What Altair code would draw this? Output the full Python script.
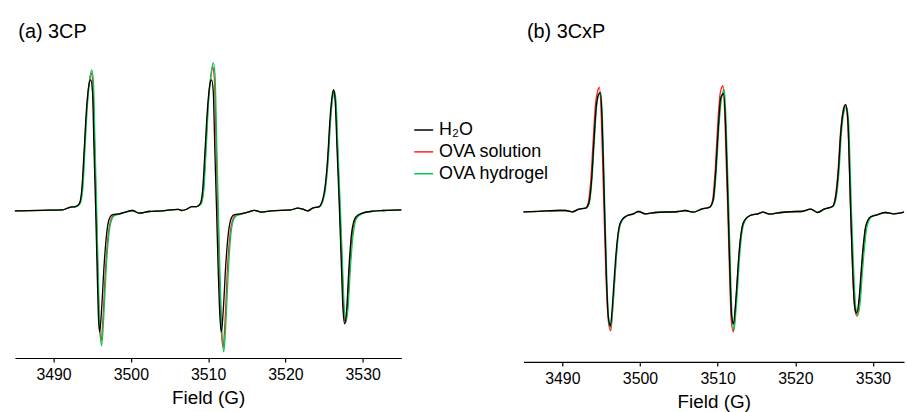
import altair as alt
import pandas as pd

SERIES = ["H₂O", "OVA solution", "OVA hydrogel"]
COLORS = ["#000000", "#ff2020", "#00c850"]
TICKS = [3490, 3500, 3510, 3520, 3530]

# ---------------- Panel (a) 3CP ----------------
FIELD_A_H2O = [3485.00, 3488.60, 3491.17, 3492.07, 3492.84, 3493.32, 3493.65, 3493.96, 3494.25, 3494.60,
               3494.81, 3495.03, 3495.24, 3495.45, 3495.63, 3495.80, 3495.96, 3496.22, 3496.53, 3496.83,
               3497.17, 3497.60, 3498.46, 3499.31, 3500.17, 3501.03, 3502.31, 3504.02, 3506.17, 3506.59,
               3507.24, 3507.88, 3508.52, 3508.96, 3509.29, 3509.60, 3509.90, 3510.24, 3510.45, 3510.66,
               3510.87, 3511.09, 3511.29, 3511.52, 3511.71, 3511.97, 3512.27, 3512.57, 3512.92, 3513.34,
               3514.18, 3515.17, 3515.98, 3516.88, 3518.16, 3520.73, 3521.59, 3522.24, 3522.88, 3523.52,
               3524.37, 3525.01, 3525.45, 3525.78, 3526.03, 3526.22, 3526.43, 3526.67, 3526.98, 3527.22,
               3527.44, 3527.67, 3527.93, 3528.23, 3528.57, 3529.09, 3529.95, 3531.02, 3532.72, 3535.00]
INT_A_H2O = [0, 0.5, 1, 3.5, 4.3, 7, 21, 61, 101, 128,
             132, 121, 61, 1, -56, -106, -122, -99, -56, -26,
             -9, -4, -3, -1.3, 0.3, -2.3, -0.7, 0, 1.5, 0.3,
             1.7, 4.3, 4.3, 7, 21, 61, 101, 128, 132, 121,
             61, 1, -56, -106, -122, -99, -56, -26, -9, -4,
             -3, -1.3, 0.5, -1.3, 0, 1, 2.7, 1.7, 0, 2.7,
             4.3, 18, 51, 94, 115, 122, 112, 64, 3, -50,
             -98, -114, -99, -56, -22, -6.3, -2.3, -0.7, 0.3, 1]

FIELD_A_SOL = [3485.00, 3488.60, 3491.17, 3492.07, 3492.84, 3493.37, 3493.70, 3494.01, 3494.31, 3494.65,
               3494.87, 3495.09, 3495.31, 3495.53, 3495.71, 3495.91, 3496.16, 3496.41, 3496.72, 3497.03,
               3497.39, 3497.79, 3498.56, 3499.31, 3500.17, 3501.03, 3502.31, 3504.02, 3506.17, 3506.59,
               3507.24, 3507.88, 3508.52, 3509.04, 3509.37, 3509.69, 3509.99, 3510.35, 3510.59, 3510.81,
               3511.03, 3511.25, 3511.45, 3511.67, 3511.93, 3512.19, 3512.49, 3512.79, 3513.14, 3513.56,
               3514.31, 3515.17, 3515.98, 3516.88, 3518.16, 3520.73, 3521.59, 3522.24, 3522.88, 3523.52,
               3524.42, 3525.06, 3525.49, 3525.84, 3526.08, 3526.27, 3526.49, 3526.74, 3527.04, 3527.29,
               3527.52, 3527.75, 3528.02, 3528.33, 3528.68, 3529.19, 3530.04, 3531.02, 3532.72, 3535.00]
INT_A_SOL = [0, 0.5, 1, 3.5, 4.3, 7, 21, 62, 104, 131,
             139, 128, 64, 1, -58, -110, -131, -106, -59, -27,
             -10, -4.5, -3, -1.3, 0.3, -2.3, -0.7, 0, 1.5, 0.3,
             1.7, 4.3, 4.3, 7, 21, 64, 106, 135, 145, 133,
             67, 1, -60, -114, -138, -111, -60, -27, -10, -4.5,
             -3, -1.3, 0.5, -1.3, 0, 1, 2.7, 1.7, 0, 2.7,
             4.3, 18, 51, 94, 114, 121, 110, 62, 2, -50,
             -97, -113, -97, -55, -22, -6.3, -2.3, -0.7, 0.3, 1]

FIELD_A_GEL = [3485.00, 3488.60, 3491.17, 3492.13, 3492.97, 3493.42, 3493.77, 3494.07, 3494.38, 3494.70,
               3494.94, 3495.15, 3495.37, 3495.58, 3495.77, 3495.96, 3496.22, 3496.48, 3496.79, 3497.11,
               3497.47, 3497.85, 3498.62, 3499.40, 3500.30, 3501.13, 3502.35, 3504.02, 3506.17, 3506.59,
               3507.24, 3507.88, 3508.52, 3509.11, 3509.45, 3509.77, 3510.06, 3510.42, 3510.67, 3510.89,
               3511.11, 3511.32, 3511.53, 3511.76, 3512.03, 3512.29, 3512.60, 3512.89, 3513.24, 3513.66,
               3514.43, 3515.17, 3515.98, 3516.88, 3518.16, 3520.73, 3521.59, 3522.24, 3522.88, 3523.52,
               3524.46, 3525.10, 3525.54, 3525.87, 3526.12, 3526.32, 3526.54, 3526.80, 3527.11, 3527.37,
               3527.60, 3527.83, 3528.11, 3528.43, 3528.79, 3529.31, 3530.12, 3531.02, 3532.72, 3535.00]
INT_A_GEL = [0, 0.5, 1, 3.5, 4.3, 7, 21, 63, 106, 133,
             142, 131, 66, 1, -59, -114, -136, -109, -61, -27,
             -10, -5, -3, -1.3, 0.3, -2.3, -0.7, 0, 1.5, 0.3,
             1.7, 4.3, 4.3, 7, 22, 66, 110, 140, 149, 137,
             69, 1, -62, -118, -142, -114, -62, -28, -10, -5,
             -3, -1.3, 0.5, -1.3, 0, 1, 2.7, 1.7, 0, 2.7,
             4.3, 18, 51, 94, 114, 121, 111, 62, 2, -50,
             -97, -112, -97, -55, -22, -6.3, -2.3, -0.7, 0.3, 1]

# ---------------- Panel (b) 3CxP ----------------
FIELD_B_H2O = [3485.00, 3487.01, 3489.57, 3490.43, 3491.27, 3492.13, 3492.99, 3493.41, 3493.76, 3494.05,
               3494.35, 3494.64, 3494.88, 3495.12, 3495.28, 3495.44, 3495.67, 3495.92, 3496.18, 3496.41,
               3496.61, 3496.83, 3497.04, 3497.32, 3497.68, 3498.32, 3499.17, 3499.81, 3500.67, 3501.95,
               3504.94, 3505.79, 3506.86, 3507.92, 3508.99, 3509.42, 3509.76, 3510.06, 3510.40, 3510.77,
               3511.02, 3511.20, 3511.36, 3511.57, 3511.79, 3512.03, 3512.26, 3512.46, 3512.67, 3512.87,
               3513.16, 3513.51, 3514.12, 3515.18, 3515.82, 3516.68, 3518.16, 3520.30, 3520.72, 3522.00,
               3522.86, 3523.72, 3524.78, 3525.20, 3525.55, 3525.85, 3526.19, 3526.49, 3526.77, 3526.96,
               3527.13, 3527.38, 3527.64, 3527.89, 3528.24, 3528.43, 3528.62, 3528.83, 3529.05, 3529.69,
               3530.54, 3531.61, 3532.68, 3534.00]
INT_B_H2O = [0, 0.5, 1.3, 1.3, 0, 2.7, 3.7, 8.7, 32, 69,
             105, 118, 120, 92, 47, -1, -65, -106, -115, -98,
             -75, -50, -31, -15, -8, -4, -2, 0.3, -2, -0.7,
             0.3, 1.3, -0.3, 2.7, 4.7, 12, 42, 82, 115, 119,
             87, 42, -1, -58, -104, -113, -97, -75, -50, -31,
             -15, -8, -4, -2, -0.3, -2.3, -0.7, 0.3, 0.3, 2.7,
             -0.7, 2.7, 5.3, 15.3, 42, 79, 102, 108, 92, 47,
             -1, -58, -95, -102, -85, -65, -45, -28, -15, -5,
             -3, -0.7, -2, -0.3]

FIELD_B_SOL = [3485.00, 3487.01, 3489.57, 3490.43, 3491.27, 3492.13, 3492.99, 3493.32, 3493.67, 3493.96,
               3494.26, 3494.55, 3494.77, 3495.01, 3495.19, 3495.37, 3495.63, 3495.92, 3496.22, 3496.45,
               3496.65, 3496.87, 3497.07, 3497.36, 3497.71, 3498.32, 3499.17, 3499.81, 3500.67, 3501.95,
               3504.94, 3505.79, 3506.86, 3507.92, 3508.99, 3509.35, 3509.70, 3509.99, 3510.34, 3510.70,
               3510.93, 3511.12, 3511.31, 3511.53, 3511.76, 3512.02, 3512.26, 3512.46, 3512.68, 3512.89,
               3513.17, 3513.54, 3514.12, 3515.18, 3515.82, 3516.68, 3518.16, 3520.30, 3520.72, 3522.00,
               3522.86, 3523.72, 3524.78, 3525.17, 3525.51, 3525.81, 3526.15, 3526.45, 3526.74, 3526.95,
               3527.13, 3527.39, 3527.66, 3527.96, 3528.29, 3528.48, 3528.68, 3528.89, 3529.10, 3529.74,
               3530.54, 3531.61, 3532.68, 3534.00]
INT_B_SOL = [0, 0.5, 1.3, 1.3, 0, 2.7, 3.7, 9, 33, 71,
             108, 122, 125.3, 96, 49, -1, -68, -110, -120, -102,
             -78, -52, -32, -15, -8, -4, -2, 0.3, -2, -0.7,
             0.3, 1.3, -0.3, 2.7, 4.7, 12, 44, 86, 120, 127,
             94, 45, -1, -62, -110, -121, -102, -78, -52, -32,
             -15, -8, -4, -2, -0.3, -2.3, -0.7, 0.3, 0.3, 2.7,
             -0.7, 2.7, 5.3, 15.3, 42, 79, 102, 108, 92, 47,
             -1, -60, -98, -105, -87, -66, -46, -28, -15, -5,
             -3, -0.7, -2, -0.3]

FIELD_B_GEL = [3485.00, 3487.01, 3489.57, 3490.43, 3491.27, 3492.13, 3492.99, 3493.46, 3493.81, 3494.10,
               3494.40, 3494.69, 3494.95, 3495.17, 3495.33, 3495.49, 3495.72, 3495.97, 3496.23, 3496.47,
               3496.69, 3496.91, 3497.11, 3497.39, 3497.77, 3498.32, 3499.17, 3499.81, 3500.67, 3501.95,
               3504.94, 3505.79, 3506.86, 3507.92, 3508.99, 3509.48, 3509.83, 3510.13, 3510.48, 3510.86,
               3511.08, 3511.27, 3511.45, 3511.66, 3511.88, 3512.11, 3512.35, 3512.57, 3512.77, 3512.98,
               3513.26, 3513.62, 3514.12, 3515.18, 3515.82, 3516.68, 3518.16, 3520.30, 3520.72, 3522.00,
               3522.86, 3523.72, 3524.85, 3525.29, 3525.64, 3525.93, 3526.28, 3526.58, 3526.86, 3527.06,
               3527.24, 3527.52, 3527.79, 3528.07, 3528.41, 3528.60, 3528.80, 3529.01, 3529.23, 3529.84,
               3530.54, 3531.61, 3532.68, 3534.00]
INT_B_GEL = [0, 0.5, 1.3, 1.3, 0, 2.7, 3.7, 8.7, 32, 69,
             105, 118, 120, 92, 47, -1, -66, -108, -116.5, -99,
             -76, -51, -31, -15, -8, -4, -2, 0.3, -2, -0.7,
             0.3, 1.3, -0.3, 2.7, 4.7, 12, 42, 82, 113, 123,
             91, 44, -1, -61, -108, -119, -100, -77, -51, -31,
             -15, -8, -4, -2, -0.3, -2.3, -0.7, 0.3, 0.3, 2.7,
             -0.7, 2.7, 5.3, 15.3, 42, 79, 101, 106, 91, 46,
             -1, -60, -97, -104, -86, -65, -45, -28, -15, -5,
             -3, -0.7, -2, -0.3]

FONT = "Liberation Sans"


def frame(series, fields, ints):
    return pd.DataFrame({"series": series, "field": fields, "intensity": ints})


df_a = pd.concat([frame(SERIES[0], FIELD_A_H2O, INT_A_H2O),
                  frame(SERIES[1], FIELD_A_SOL, INT_A_SOL),
                  frame(SERIES[2], FIELD_A_GEL, INT_A_GEL)], ignore_index=True)
df_b = pd.concat([frame(SERIES[0], FIELD_B_H2O, INT_B_H2O),
                  frame(SERIES[1], FIELD_B_SOL, INT_B_SOL),
                  frame(SERIES[2], FIELD_B_GEL, INT_B_GEL)], ignore_index=True)


def panel(df, title, xdom, ydom, width, height, legend):
    layers = []
    for s in [SERIES[1], SERIES[2], SERIES[0]]:
        layers.append(
            alt.Chart(df).transform_filter(alt.datum.series == s)
            .mark_line(interpolate="monotone", strokeWidth=1.3)
            .encode(
                x=alt.X("field:Q",
                        scale=alt.Scale(domain=xdom, nice=False, zero=False),
                        axis=alt.Axis(values=TICKS, format="d", title="Field (G)")),
                y=alt.Y("intensity:Q",
                        scale=alt.Scale(domain=ydom, nice=False, zero=False),
                        axis=None),
                color=alt.Color("series:N",
                                scale=alt.Scale(domain=SERIES, range=COLORS),
                                legend=legend),
            )
        )
    return alt.layer(*layers).properties(
        width=width, height=height,
        title=alt.Title(title, anchor="start", dx=6, offset=9, fontSize=20,
                        font=FONT, fontWeight="normal", color="black"),
    )


legend_a = alt.Legend(orient="none", legendX=401, legendY=69, title=None,
                      symbolType="stroke", symbolSize=361, symbolStrokeWidth=1.5,
                      labelFontSize=18, labelFont=FONT, labelColor="black",
                      labelOffset=5, rowPadding=2, padding=0)

chart_a = panel(df_a, "(a) 3CP", [3485, 3535], [-148.3, 161], 389, 309, legend_a)
chart_b = panel(df_b, "(b) 3CxP", [3485, 3534], [-151.3, 162], 383, 313, None)

chart = (
    alt.hconcat(chart_a, chart_b, spacing=123, bounds="flush")
    .resolve_scale(color="independent")
    .properties(padding={"left": 12, "top": 21, "right": 0, "bottom": 0})
    .configure_view(stroke=None)
    .configure_axis(
        grid=False, domainColor="black", domainWidth=1.2, tickColor="black",
        tickSize=4, tickWidth=1.2, labelFont=FONT, labelFontSize=16, labelColor="black",
        labelPadding=5, titleFont=FONT, titleFontSize=19, titleColor="black",
        titleFontWeight="normal", titlePadding=6,
    )
)

chart.save("out.html", embed_options={"renderer": "svg", "actions": False})
